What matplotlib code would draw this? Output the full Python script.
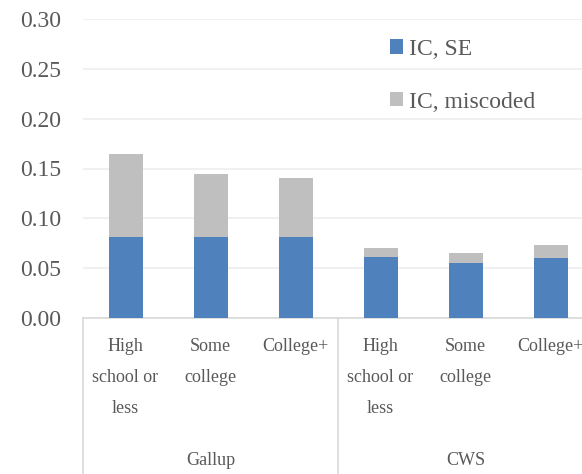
import numpy as np
import matplotlib
matplotlib.use("Agg")
import matplotlib.pyplot as plt
import matplotlib.transforms as mtransforms

# Data
groups = ["Gallup", "CWS"]
categories = ["High\nschool or\nless", "Some\ncollege", "College+"]
ic_se = [0.081, 0.081, 0.081, 0.061, 0.055, 0.060]
ic_miscoded = [0.084, 0.063, 0.059, 0.009, 0.010, 0.013]

blue = "#4f81bd"
grey = "#bfbfbf"
text_col = "#595959"

plt.rcParams["font.family"] = ["Liberation Serif", "DejaVu Serif"]

fig = plt.figure(figsize=(5.82, 4.74), dpi=100)
ax = fig.add_axes([83 / 582, 1 - 318 / 474, 510 / 582, 299 / 474])

x = np.arange(len(ic_se))
ax.bar(x, ic_se, width=0.4, color=blue, label="IC, SE", zorder=3)
ax.bar(x, ic_miscoded, width=0.4, bottom=ic_se, color=grey, label="IC, miscoded", zorder=3)

ax.set_xlim(-0.5, len(x) - 0.5)
ax.set_ylim(0, 0.30)
ax.set_yticks(np.arange(0, 0.31, 0.05))
ax.set_yticklabels(["%.2f" % v for v in np.arange(0, 0.31, 0.05)])
ax.tick_params(axis="y", length=0, labelsize=17, labelcolor=text_col, pad=16)
ax.tick_params(axis="x", length=0, labelbottom=False)
ax.yaxis.grid(True, color="#eeeeee", linewidth=1.2, zorder=0)

for s in ["top", "right", "left"]:
    ax.spines[s].set_visible(False)
ax.spines["bottom"].set_color("#d9d9d9")
ax.spines["bottom"].set_linewidth(1.2)

# category and group labels below the axis
trans = mtransforms.blended_transform_factory(ax.transData, ax.transAxes)
for g, name in enumerate(groups):
    for c, lab in enumerate(categories):
        ax.text(g * 3 + c, -0.068, lab, transform=trans, ha="center", va="top",
                fontsize=13, color=text_col, linespacing=2.05)
    ax.text(g * 3 + 1, -0.475, name, transform=trans, ha="center", va="center",
            fontsize=13, color=text_col)

for xd in [-0.5, 2.5, 5.5]:
    ax.plot([xd, xd], [0, -0.55], transform=trans, color="#d9d9d9",
            linewidth=1.2, clip_on=False)

leg = ax.legend(loc="upper left", bbox_to_anchor=(0.56, 1.005), frameon=False,
                fontsize=17, handlelength=0.55, handleheight=0.55,
                handletextpad=0.25, labelspacing=1.35)
for t in leg.get_texts():
    t.set_color(text_col)

fig.savefig("out.png", dpi=100)
